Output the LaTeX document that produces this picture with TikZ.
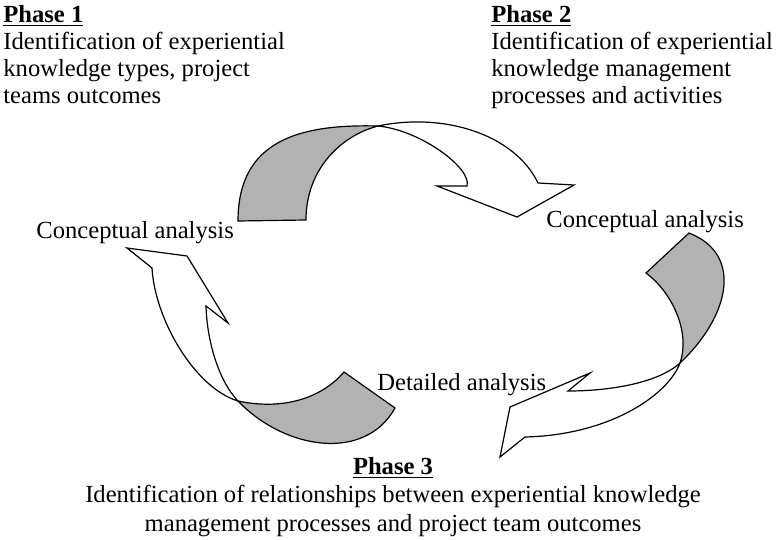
\documentclass[tikz,border=0pt]{standalone}
\usepackage{fontspec}
\setmainfont{Liberation Serif}
\usepackage{tikz}

\begin{document}
\begin{tikzpicture}[x=0.5pt,y=-0.5pt,
	phasetext/.style={inner sep=0pt,align=left,font=\fontsize{12.3}{13.5}\selectfont},
	steptext/.style={inner sep=0pt,font=\fontsize{12.3}{13.5}\selectfont},
	front/.style={draw=black,line width=0.6pt,fill=white},
	back/.style={draw=black,line width=0.6pt,fill=black!30}]
	
	\useasboundingbox (0,0) rectangle (776,540);
	
	\coordinate (t1) at (238,221);
	\coordinate (t2) at (306,220);
	\coordinate (tx) at (378,126);
	\coordinate (ti) at (467,186);
	\coordinate (tib) at (437,186);
	\coordinate (tt) at (517,217);
	\coordinate (tob) at (574,185);
	\coordinate (to) at (538,183);
	
	\coordinate (r1) at (689,233);
	\coordinate (r2) at (646,273);
	\coordinate (rx) at (680,363);
	\coordinate (ri) at (568,391);
	\coordinate (rib) at (590,373);
	\coordinate (rt) at (510,407);
	\coordinate (rob) at (500,457);
	\coordinate (ro) at (525,437);
	
	\coordinate (l1) at (344,372);
	\coordinate (l2) at (395,408);
	\coordinate (lx) at (238,401);
	\coordinate (li) at (206,306);
	\coordinate (lib) at (228,323);
	\coordinate (lt) at (187,256);
	\coordinate (lob) at (127,248);
	\coordinate (lo) at (152,268);
	
	\draw[front] (tx) .. controls (420,130) and (472,168) .. (ti) -- (tib) -- (tt) -- (tob) -- (to) .. controls (515,135) and (445,112) .. (tx) -- cycle;
	\draw[back] (t1) .. controls (238,140) and (300,124) .. (tx) .. controls (340,136) and (306,170) .. (t2) -- cycle;
	
	\draw[front] (rx) .. controls (658,383) and (610,391) .. (ri) -- (rib) -- (rt) -- (rob) -- (ro) .. controls (610,435) and (668,395) .. (rx) -- cycle;
	\draw[back] (r1) .. controls (745,255) and (728,318) .. (rx) .. controls (690,335) and (675,295) .. (r2) -- cycle;
	
	\draw[front] (lx) .. controls (218,380) and (207,340) .. (li) -- (lib) -- (lt) -- (lob) -- (lo) .. controls (155,320) and (195,388) .. (lx) -- cycle;
	\draw[back] (l2) .. controls (365,462) and (285,450) .. (lx) .. controls (280,410) and (320,400) .. (l1) -- cycle;
	
	\node[phasetext,anchor=north west] (p1) at (3,5) {\underline{\textbf{Phase 1}}\\Identification of experiential\\knowledge types, project\\teams outcomes};
	\node[phasetext,anchor=north west] (p2) at (491,5) {\underline{\textbf{Phase 2}}\\Identification of experiential\\knowledge management\\processes and activities};
	\node[phasetext,align=center,anchor=north,font=\fontsize{12.3}{14.2}\selectfont] (p3) at (393,457) {\underline{\textbf{Phase 3}}\\Identification of relationships between experiential knowledge\\management processes and project team outcomes};
	
	\node[steptext,anchor=base west] (c1) at (36,238) {Conceptual analysis};
	\node[steptext,anchor=base west] (c2) at (546,227) {Conceptual analysis};
	\node[steptext,anchor=base west] (d3) at (377,390) {Detailed analysis};
\end{tikzpicture}
\end{document}
